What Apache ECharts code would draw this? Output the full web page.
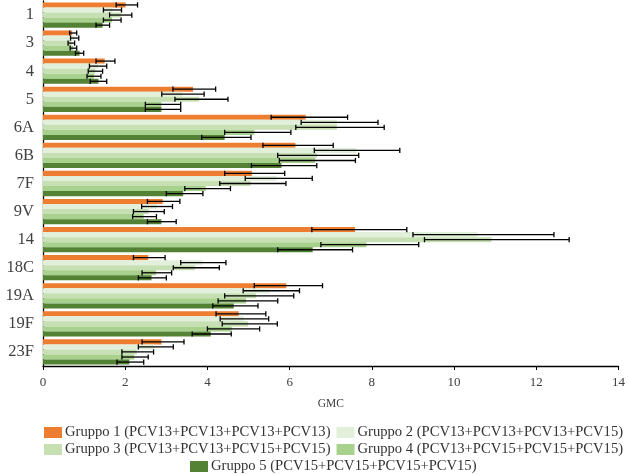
<!DOCTYPE html>
<html><head><meta charset="utf-8">
<script src="https://cdn.jsdelivr.net/npm/echarts@6/dist/echarts.min.js"></script>
<style>html,body{margin:0;padding:0;background:#fff}#c{width:628px;height:475px}</style>
</head><body><div id="c"></div>
<script>
const categories = ['1','3','4','5','6A','6B','7F','9V','14','18C','19A','19F','23F'];
const seriesNames = ['Gruppo 1 (PCV13+PCV13+PCV13+PCV13)','Gruppo 2 (PCV13+PCV13+PCV13+PCV15)','Gruppo 3 (PCV13+PCV13+PCV15+PCV15)','Gruppo 4 (PCV13+PCV15+PCV15+PCV15)','Gruppo 5 (PCV15+PCV15+PCV15+PCV15)'];
const xTicks = [0,2,4,6,8,10,12,14];

const g1 = [2.01, 0.71, 1.50, 3.65, 6.39, 6.14, 5.08, 2.91, 7.59, 2.56, 5.92, 4.76, 2.88];
const g1Low = [1.78, 0.65, 1.29, 3.16, 5.55, 5.35, 4.42, 2.54, 6.54, 2.20, 5.14, 4.21, 2.41];
const g1High = [2.30, 0.82, 1.75, 4.20, 7.41, 7.06, 5.88, 3.33, 8.85, 2.97, 6.80, 5.42, 3.43];

const g2 = [1.69, 0.77, 1.34, 3.40, 7.15, 7.62, 5.68, 2.77, 10.57, 3.88, 5.52, 4.88, 2.72];
const g2Low = [1.47, 0.67, 1.13, 2.89, 6.28, 6.60, 4.92, 2.40, 9.00, 3.35, 4.87, 4.31, 2.32];
const g2High = [1.91, 0.87, 1.55, 3.92, 8.15, 8.68, 6.55, 3.15, 12.43, 4.45, 6.24, 5.49, 3.17];

const g3 = [1.90, 0.69, 1.27, 3.80, 7.15, 6.66, 5.05, 2.57, 10.91, 3.70, 5.18, 4.99, 2.28];
const g3Low = [1.62, 0.61, 1.10, 3.21, 6.15, 5.71, 4.30, 2.20, 9.28, 3.17, 4.42, 4.36, 1.92];
const g3High = [2.16, 0.77, 1.45, 4.50, 8.30, 7.68, 5.91, 2.95, 12.80, 4.29, 6.10, 5.70, 2.69];

const g4 = [1.68, 0.74, 1.24, 2.88, 5.14, 6.62, 3.96, 2.45, 7.87, 2.75, 4.94, 4.59, 2.22];
const g4Low = [1.47, 0.66, 1.07, 2.49, 4.42, 5.75, 3.45, 2.18, 6.76, 2.41, 4.26, 4.00, 1.92];
const g4High = [1.90, 0.82, 1.41, 3.35, 6.03, 7.60, 4.56, 2.76, 9.14, 3.13, 5.71, 5.27, 2.56];

const g5 = [1.45, 0.89, 1.35, 2.88, 4.42, 5.80, 3.41, 2.88, 6.56, 2.64, 4.64, 4.08, 2.10];
const g5Low = [1.29, 0.79, 1.15, 2.49, 3.86, 5.07, 3.00, 2.54, 5.71, 2.32, 4.13, 3.63, 1.80];
const g5High = [1.62, 0.99, 1.55, 3.35, 5.06, 6.66, 3.89, 3.24, 7.53, 3.00, 5.23, 4.58, 2.45];

const colors = ['#ED7D31','#E2EFDA','#C6E0B4','#A9D18E','#548235'];
const values = [g1,g2,g3,g4,g5];
const lows = [g1Low,g2Low,g3Low,g4Low,g5Low];
const highs = [g1High,g2High,g3High,g4High,g5High];

const FONT = 'Liberation Serif';
const N = 5, GAP = 0.10;

const series = [];
values.forEach((v,i)=>{
  series.push({type:'bar', name:seriesNames[i], data:v, itemStyle:{color:colors[i]},
    barGap:'0%', barCategoryGap:(GAP*100)+'%', z:2, silent:true});
});
values.forEach((v,i)=>{
  series.push({type:'custom', name:'err'+i, z:5, silent:true,
    data: categories.map((c,k)=>[k, lows[i][k], highs[i][k]]),
    encode:{x:[1,2], y:0},
    renderItem:(params, api)=>{
      const cat = api.value(0), lo = api.value(1), hi = api.value(2);
      const band = api.size([0,1])[1];
      const bw = band*(1-GAP)/N;
      const off = -band*(1-GAP)/2 + (i+0.5)*bw;
      const p1 = api.coord([lo, cat]), p2 = api.coord([hi, cat]);
      const y = p1[1] + off, h = 2.6;
      const st = {stroke:'#000', lineWidth:1.3};
      return {type:'group', children:[
        {type:'line', shape:{x1:p1[0], y1:y, x2:p2[0], y2:y}, style:st},
        {type:'line', shape:{x1:p1[0], y1:y-h, x2:p1[0], y2:y+h}, style:st},
        {type:'line', shape:{x1:p2[0], y1:y-h, x2:p2[0], y2:y+h}, style:st}
      ]};
    }
  });
});

const legendCommon = {orient:'horizontal', itemWidth:18, itemHeight:11, itemGap:6,
  icon:'rect', textStyle:{fontFamily:FONT, fontSize:14.6, color:'#333', padding:[0,0,0,-2]}, padding:0, selectedMode:false};

const option = {
  animation:false,
  backgroundColor:'#fff',
  grid:{left:43, right:6.5, top:1, bottom:109, containLabel:false},
  legend:[
    Object.assign({}, legendCommon, {data:[seriesNames[0], seriesNames[1]], left:44, top:425}),
    Object.assign({}, legendCommon, {data:[seriesNames[2], seriesNames[3]], left:44, top:442}),
    Object.assign({}, legendCommon, {data:[seriesNames[4]], left:190, top:459})
  ],
  xAxis:{type:'value', min:xTicks[0], max:xTicks[xTicks.length-1], interval:2,
    name:'GMC', nameLocation:'middle', nameGap:32,
    nameTextStyle:{fontFamily:FONT, fontSize:11.5, color:'#404040'},
    axisLine:{show:true, lineStyle:{color:'#000', width:1.3}},
    axisTick:{show:true, length:4, lineStyle:{color:'#000'}},
    axisLabel:{fontFamily:FONT, fontSize:13, color:'#404040', margin:10},
    splitLine:{show:false}},
  yAxis:{type:'category', data:categories, inverse:true,
    axisLine:{show:true, lineStyle:{color:'#000', width:1.3}},
    axisTick:{show:false},
    axisLabel:{fontFamily:FONT, fontSize:16.5, color:'#404040', margin:9}},
  series
};
const chart = echarts.init(document.getElementById('c'), null, {renderer:'canvas'});
chart.setOption(option);
</script></body></html>
